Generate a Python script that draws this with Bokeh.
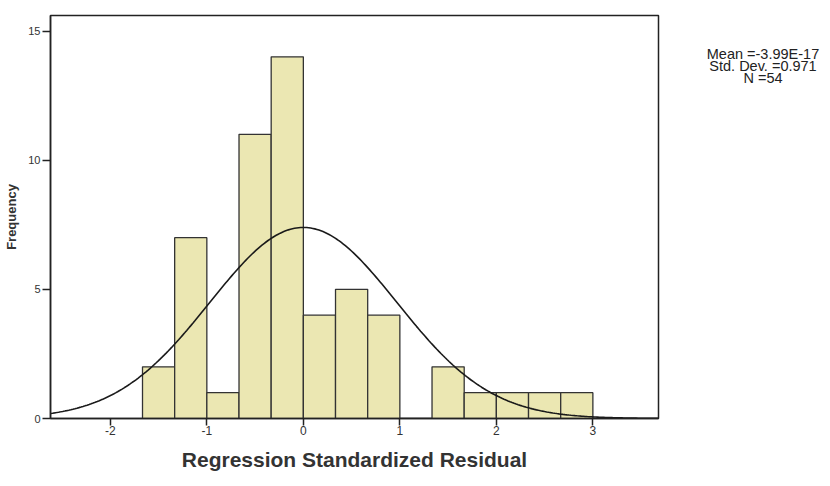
import numpy as np
from bokeh.plotting import figure
from bokeh.layouts import row
from bokeh.models import Range1d, FixedTicker, ColumnDataSource
from bokeh.core.properties import value
from bokeh.embed import file_html
from bokeh.resources import INLINE

# Data
bin_left = [-5/3, -4/3, -1, -2/3, -1/3, 0, 1/3, 2/3, 1, 4/3, 5/3, 2, 7/3, 8/3]
bin_right = [-4/3, -1, -2/3, -1/3, 0, 1/3, 2/3, 1, 4/3, 5/3, 2, 7/3, 8/3, 3]
freq = [2, 7, 1, 11, 14, 4, 5, 4, 0, 2, 1, 1, 1, 1]
x_ticks = [-2, -1, 0, 1, 2, 3]
y_ticks = [0, 5, 10, 15]
mean_val = -3.99e-17
std_val = 0.971
n_val = 54
stats_lines = ["Mean =-3.99E-17", "Std. Dev. =0.971", "N =54"]

FONT = "Liberation Sans"

p = figure(width=680, height=486, output_backend="svg", toolbar_location=None,
           x_range=Range1d(-2.62, 3.68), y_range=Range1d(0, 15.6),
           min_border_left=50, min_border_right=22, min_border_top=15,
           min_border_bottom=68)
p.background_fill_color = "white"
p.border_fill_color = "white"
p.outline_line_color = "#222222"
p.outline_line_width = 1.5
p.grid.visible = False

src = ColumnDataSource(dict(left=bin_left, right=bin_right, top=freq,
                            bottom=[0] * len(freq)))
p.quad(left="left", right="right", top="top", bottom="bottom", source=src,
       fill_color="#ebe7b2", line_color="#333333", line_width=1.3)

# Normal curve fitted with the stated mean / std and N
bw = bin_right[0] - bin_left[0]
xs = np.linspace(-2.62, 3.68, 300)
ys = n_val * bw / (std_val * np.sqrt(2 * np.pi)) * np.exp(-0.5 * ((xs - mean_val) / std_val) ** 2)
p.line(xs, ys, line_color="#1a1a1a", line_width=1.6)

for ax in (p.xaxis[0], p.yaxis[0]):
    ax.axis_line_color = "#222222"
    ax.axis_line_width = 1.5
    ax.major_tick_line_color = "#222222"
    ax.major_tick_line_width = 1.5
    ax.major_tick_in = 0
    ax.minor_tick_line_color = None
    ax.major_label_text_font = FONT
    ax.major_label_text_color = "#333333"
    ax.axis_label_text_font = FONT
    ax.axis_label_text_font_style = "bold"
    ax.axis_label_text_color = "#333333"

p.xaxis.ticker = FixedTicker(ticks=x_ticks)
p.yaxis.ticker = FixedTicker(ticks=y_ticks)
p.xaxis.major_label_overrides = {t: str(t) for t in x_ticks}
p.xaxis.major_tick_out = 7
p.yaxis.major_tick_out = 8
p.xaxis.major_label_text_font_size = "12px"
p.yaxis.major_label_text_font_size = "11px"
p.xaxis.axis_label = "Regression Standardized Residual"
p.xaxis.axis_label_text_font_size = "21px"
p.xaxis.axis_label_standoff = 10
p.xaxis.major_label_standoff = 0
p.yaxis.axis_label = "Frequency"
p.yaxis.axis_label_text_font_size = "13px"
p.yaxis.axis_label_standoff = 6
p.yaxis.major_label_standoff = 2

# Side panel with the summary statistics
s = figure(width=150, height=486, output_backend="svg", toolbar_location=None,
           x_range=Range1d(0, 150), y_range=Range1d(0, 486),
           min_border=0)
s.title.visible = False
s.axis.visible = False
s.grid.visible = False
s.outline_line_color = None
s.background_fill_color = "white"
s.border_fill_color = "white"
s.text(x=[82.5] * 3, y=[486 - 46 - 14.5 * i for i in range(3)], text=stats_lines,
       text_align="center", text_baseline="alphabetic", text_font=value(FONT),
       text_font_size="14.5px", text_color="#222222")

layout = row(p, s)
open("out.html", "w").write(file_html(layout, INLINE))
